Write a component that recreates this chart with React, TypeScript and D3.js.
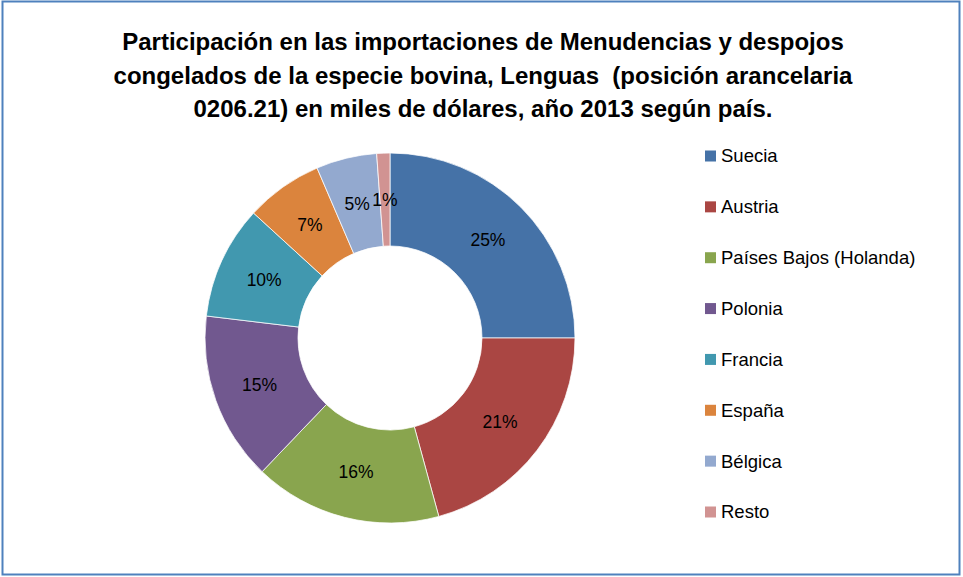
import React from "react";
import * as d3 from "d3";

const categories = ["Suecia", "Austria", "Países Bajos (Holanda)", "Polonia", "Francia", "España", "Bélgica", "Resto"];
const values = [25.0, 20.75, 16.4, 14.75, 9.9, 6.75, 5.3, 1.15];
const colors = ["#4572A7", "#AA4643", "#89A54E", "#71588F", "#4198AF", "#DB843D", "#93A9CF", "#D19392"];
const titleLines = [
  "Participación en las importaciones de Menudencias y despojos",
  "congelados de la especie bovina, Lenguas  (posición arancelaria",
  "0206.21) en miles de dólares, año 2013 según país.",
];

const W = 963;
const H = 577;
const cx = 390;
const cy = 338;
const R = 185;
const r = 92;

export default function App() {
  const total = d3.sum(values);
  const pie = d3.pie<number>().sort(null).value((d) => d);
  const arcs = pie(values);
  const arc = d3.arc<d3.PieArcDatum<number>>().innerRadius(r).outerRadius(R);
  const fmt = (v: number) => `${Math.round((v / total) * 100)}%`;
  const legendY = d3.scalePoint<string>().domain(categories).range([156, 512]);

  return (
    <svg width={W} height={H} style={{ position: "absolute", left: 0, top: 0 }} fontFamily="'Liberation Sans', Arial, sans-serif">
      <rect x={0} y={0} width={W} height={H} fill="#fff" />
      <rect x={2.5} y={1.5} width={957} height={573} fill="none" stroke="#4F81BD" strokeWidth={2} />
      {titleLines.map((t, i) => (
        <text key={i} x={483} y={42 + i * 33.5} dy="0.35em" textAnchor="middle" fontWeight="bold" fontSize={24} fill="#000" style={{ whiteSpace: "pre" }}>
          {t}
        </text>
      ))}
      <g transform={`translate(${cx},${cy})`}>
        {arcs.map((a, i) => (
          <path key={i} d={arc(a) || ""} fill={colors[i]} stroke="#fff" strokeWidth={0.75} />
        ))}
        {arcs.map((a, i) => {
          const [x, y] = arc.centroid(a);
          return (
            <text key={i} x={x} y={y} dy="0.35em" textAnchor="middle" fontSize={17.5} fill="#000">
              {fmt(a.data)}
            </text>
          );
        })}
      </g>
      {categories.map((c, i) => (
        <g key={c} transform={`translate(705,${legendY(c)})`}>
          <rect x={0} y={-5.5} width={11} height={11} fill={colors[i]} />
          <text x={16} y={0} dy="0.35em" fontSize={18.5} fill="#000">
            {c}
          </text>
        </g>
      ))}
    </svg>
  );
}
